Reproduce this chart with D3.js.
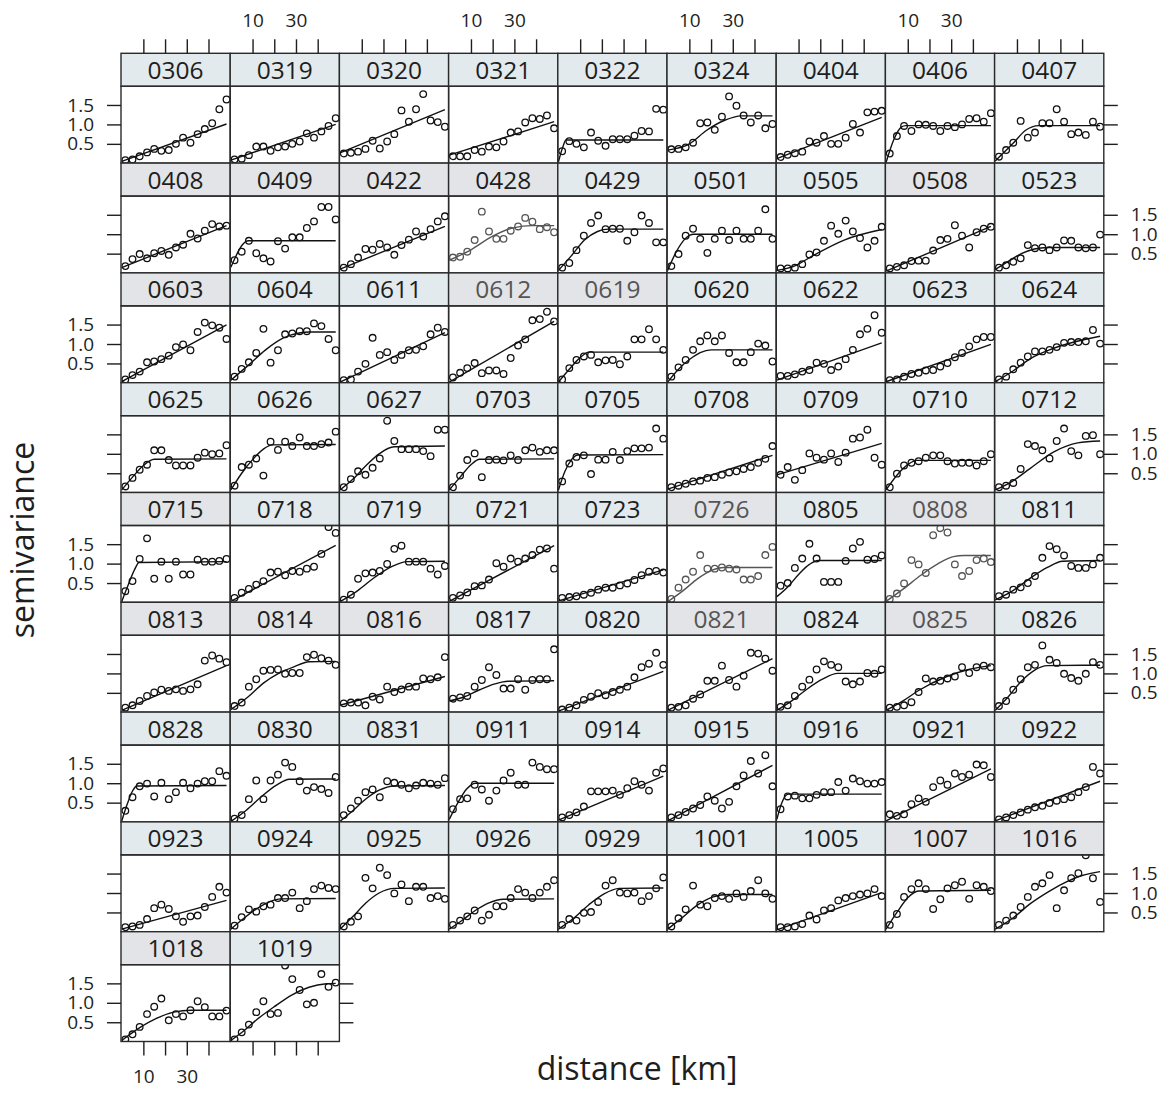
<!DOCTYPE html>
<html>
<head>
<meta charset="utf-8">
<script src="https://cdn.jsdelivr.net/npm/d3@7"></script>
<style>
  body { margin: 0; background: #fff; }
  text { font-family: "Open Sans", sans-serif; fill: #1e1e1e; }
</style>
</head>
<body>
<div id="chart"></div>
<script>
// station labels, in the order the panels are laid out (left to right, top to bottom)
const stations = [
  "0306","0319","0320","0321","0322","0324","0404","0406","0407",
  "0408","0409","0422","0428","0429","0501","0505","0508","0523",
  "0603","0604","0611","0612","0619","0620","0622","0623","0624",
  "0625","0626","0627","0703","0705","0708","0709","0710","0712",
  "0715","0718","0719","0721","0723","0726","0805","0808","0811",
  "0813","0814","0816","0817","0820","0821","0824","0825","0826",
  "0828","0830","0831","0911","0914","0915","0916","0921","0922",
  "0923","0924","0925","0926","0929","1001","1005","1007","1016",
  "1018","1019"
];

// lag distance of each bin [km]
const distances = [1.7, 5, 8.3, 11.7, 15, 18.3, 21.7, 25, 28.3, 31.7, 35, 38.3, 41.7, 45, 48.3];

// empirical semivariance per station (one value per distance bin)
const semivar = [
  [0.08,0.10,0.18,0.28,0.37,0.32,0.34,0.50,0.66,0.53,0.75,0.88,1.03,1.39,1.64],
  [0.10,0.12,0.21,0.43,0.43,0.32,0.41,0.43,0.50,0.56,0.77,0.66,0.82,0.96,1.16],
  [0.25,0.27,0.30,0.37,0.58,0.38,0.56,0.75,1.36,1.07,1.39,1.78,1.10,1.06,0.94],
  [0.18,0.18,0.18,0.34,0.30,0.43,0.41,0.56,0.79,0.82,1.05,1.16,1.14,1.23,0.90],
  [0.31,0.57,0.50,0.41,0.79,0.58,0.45,0.62,0.62,0.62,0.71,0.83,0.82,1.40,1.38],
  [0.36,0.37,0.41,0.53,1.03,1.05,0.86,1.20,1.72,1.48,1.23,1.05,1.23,0.90,1.01],
  [0.16,0.22,0.26,0.30,0.56,0.53,0.70,0.50,0.50,0.66,1.01,0.79,1.31,1.33,1.35],
  [0.25,0.70,0.96,0.83,1.00,0.99,0.96,0.83,0.96,0.93,1.00,1.14,1.16,1.07,1.29],
  [0.17,0.34,0.53,1.09,0.66,0.79,1.03,1.03,1.39,1.07,0.75,0.79,0.73,1.07,0.94],
  [0.18,0.36,0.49,0.38,0.51,0.57,0.47,0.66,0.73,1.01,0.89,1.09,1.26,1.20,1.22],
  [0.33,0.55,0.83,0.51,0.38,0.30,0.82,0.63,0.92,0.92,1.16,1.33,1.70,1.70,1.38],
  [0.14,0.23,0.40,0.62,0.60,0.75,0.66,0.47,0.72,0.86,1.07,0.94,1.13,1.33,1.46],
  [0.40,0.42,0.55,0.85,1.58,1.07,0.88,0.88,1.09,1.20,1.42,1.32,1.13,1.18,1.05],
  [0.14,0.26,0.59,0.96,1.29,1.48,1.13,1.14,1.14,0.83,1.05,1.48,1.29,0.79,0.79],
  [0.18,0.49,0.96,1.14,0.88,0.52,0.88,1.09,0.85,1.09,0.88,0.88,1.09,1.64,0.88],
  [0.12,0.12,0.14,0.23,0.48,0.53,0.83,1.22,1.01,1.35,1.07,0.90,0.66,0.83,1.19],
  [0.12,0.16,0.20,0.31,0.32,0.32,0.58,0.85,0.88,1.23,0.96,0.66,1.05,1.14,1.19],
  [0.14,0.20,0.29,0.38,0.72,0.64,0.66,0.59,0.66,0.84,0.83,0.66,0.64,0.66,0.99],
  [0.09,0.20,0.29,0.53,0.55,0.61,0.70,0.92,0.99,0.84,1.31,1.55,1.48,1.42,1.13],
  [0.16,0.36,0.53,0.77,1.39,0.52,0.84,1.25,1.27,1.33,1.33,1.53,1.46,1.13,0.84],
  [0.07,0.09,0.29,0.49,1.16,0.72,0.79,0.59,0.72,0.84,0.85,0.94,1.25,1.42,1.31],
  [0.14,0.26,0.38,0.51,0.25,0.32,0.32,0.23,0.64,0.96,1.12,1.61,1.64,1.83,1.58],
  [0.09,0.38,0.59,0.68,0.72,0.53,0.58,0.59,0.48,0.68,1.12,1.12,1.38,1.12,0.85],
  [0.16,0.40,0.59,0.85,1.07,1.22,1.07,1.22,0.77,0.53,0.53,0.79,1.01,0.96,0.55],
  [0.18,0.18,0.22,0.29,0.33,0.52,0.49,0.33,0.42,0.61,0.85,1.25,1.39,1.74,1.29],
  [0.07,0.09,0.16,0.23,0.26,0.32,0.33,0.42,0.51,0.66,0.77,0.94,1.12,1.18,1.18],
  [0.09,0.16,0.35,0.52,0.68,0.81,0.81,0.85,0.92,1.03,1.05,1.05,1.07,1.36,1.01],
  [0.16,0.38,0.59,0.72,1.09,1.09,0.84,0.70,0.70,0.70,0.90,1.03,0.99,1.01,1.22],
  [0.18,0.66,0.72,0.88,0.44,1.31,1.10,1.31,1.20,1.42,1.20,1.20,1.25,1.29,1.57],
  [0.14,0.35,0.55,0.46,0.64,0.88,1.85,1.33,1.12,1.12,1.12,1.07,0.94,1.62,1.62],
  [0.14,0.44,0.84,1.01,0.40,0.84,0.85,0.83,0.96,0.84,1.09,1.16,1.05,1.09,1.09],
  [0.29,0.75,0.92,0.96,0.48,0.85,0.85,1.05,0.84,1.07,1.14,1.14,1.16,1.65,1.39],
  [0.14,0.18,0.23,0.29,0.31,0.38,0.40,0.46,0.52,0.55,0.61,0.66,0.77,0.87,1.20],
  [0.46,0.66,0.33,0.58,1.01,0.90,0.85,1.01,0.79,1.03,1.39,1.42,1.62,0.90,0.72],
  [0.14,0.49,0.70,0.77,0.81,0.90,0.96,0.96,0.81,0.75,0.77,0.77,0.70,0.81,0.99],
  [0.14,0.18,0.25,0.61,1.25,1.20,1.09,0.88,1.33,1.65,1.07,0.96,1.46,1.48,0.99],
  [0.29,0.55,1.12,1.65,0.61,1.05,0.61,1.05,0.72,0.72,1.10,1.05,1.05,1.07,1.12],
  [0.12,0.25,0.35,0.46,0.55,0.77,0.79,0.70,0.81,0.79,0.87,0.92,1.25,1.94,1.79],
  [0.07,0.20,0.61,0.75,0.77,0.81,0.99,1.38,1.46,1.05,1.05,1.05,0.87,0.72,0.94],
  [0.12,0.18,0.26,0.42,0.44,0.59,1.01,0.92,1.13,1.05,1.13,1.22,1.36,1.39,0.87],
  [0.12,0.14,0.16,0.20,0.25,0.33,0.38,0.38,0.44,0.49,0.58,0.70,0.79,0.81,0.77],
  [0.09,0.38,0.59,0.79,1.22,0.87,0.87,0.90,0.87,0.85,0.59,0.59,0.68,1.22,1.43],
  [0.43,0.50,0.89,1.13,1.51,1.13,0.53,0.53,0.53,1.07,1.39,1.56,1.10,1.12,1.21],
  [0.09,0.23,0.49,1.09,0.98,0.76,1.73,1.91,1.80,0.98,0.68,0.81,1.09,1.13,1.04],
  [0.16,0.20,0.33,0.39,0.50,0.68,1.15,1.45,1.37,1.21,0.94,0.89,0.89,0.98,1.15],
  [0.12,0.18,0.29,0.42,0.51,0.58,0.55,0.59,0.55,0.59,0.72,1.33,1.46,1.38,1.29],
  [0.16,0.25,0.66,0.85,1.07,1.09,1.10,0.99,1.01,1.01,1.42,1.48,1.39,1.33,1.22],
  [0.23,0.25,0.25,0.18,0.40,0.33,0.66,0.52,0.59,0.66,0.66,0.87,0.85,0.90,1.42],
  [0.35,0.38,0.42,0.66,0.83,1.16,0.96,0.61,0.61,0.85,0.58,0.83,0.85,0.85,1.62],
  [0.07,0.12,0.18,0.32,0.40,0.49,0.44,0.52,0.58,0.66,0.90,1.16,1.25,1.53,1.22],
  [0.12,0.14,0.18,0.35,0.46,0.81,0.81,1.20,0.83,0.66,0.94,1.53,1.51,1.38,1.07],
  [0.14,0.18,0.42,0.66,0.84,1.10,1.31,1.22,1.16,0.79,0.72,0.79,1.01,0.99,1.10],
  [0.12,0.14,0.18,0.26,0.52,0.87,0.79,0.81,0.87,0.92,1.16,1.01,1.16,1.20,1.16],
  [0.16,0.29,0.58,0.85,1.16,1.22,1.72,1.35,1.27,0.99,0.88,0.81,0.99,1.29,1.22],
  [0.29,0.64,0.92,0.99,0.66,1.01,0.59,0.77,1.01,0.87,0.99,1.05,1.05,1.31,1.19],
  [0.09,0.18,0.59,1.07,0.59,1.07,1.22,1.53,1.42,1.05,0.81,0.90,0.85,0.75,1.16],
  [0.18,0.35,0.55,0.77,0.84,0.64,1.05,1.01,0.96,0.87,0.94,1.01,0.99,0.96,1.13],
  [0.33,0.59,0.61,0.96,0.84,0.55,0.81,1.07,1.27,0.96,0.96,1.53,1.42,1.36,1.36],
  [0.12,0.18,0.25,0.40,0.79,0.79,0.79,0.81,0.70,0.87,1.05,0.96,0.81,1.27,1.38],
  [0.12,0.18,0.26,0.35,0.44,0.66,0.55,0.35,0.52,0.92,1.20,1.57,1.25,1.72,0.92],
  [0.33,0.66,0.68,0.61,0.61,0.70,0.77,0.77,1.03,0.81,1.12,1.05,0.99,0.99,1.03],
  [0.20,0.16,0.20,0.46,0.61,0.52,0.90,1.07,0.96,1.25,1.16,1.22,1.48,1.46,1.16],
  [0.07,0.12,0.18,0.25,0.32,0.38,0.42,0.49,0.55,0.59,0.64,0.77,0.90,1.42,1.25],
  [0.12,0.14,0.18,0.33,0.61,0.70,0.59,0.40,0.26,0.40,0.42,0.64,0.90,1.16,1.01],
  [0.16,0.38,0.58,0.52,0.66,0.70,0.87,0.87,1.01,0.61,0.79,1.10,1.19,1.13,1.10],
  [0.14,0.26,0.40,1.39,1.12,1.65,1.46,0.99,1.22,0.79,1.16,1.16,0.87,0.92,0.85],
  [0.18,0.29,0.40,0.55,0.29,0.44,0.66,0.66,0.87,1.10,1.01,0.87,1.01,1.16,1.33],
  [0.18,0.33,0.29,0.49,0.51,0.77,1.19,1.33,1.01,0.99,1.01,0.79,0.92,1.12,1.40],
  [0.14,0.35,0.58,1.19,0.70,0.66,0.87,0.92,0.85,0.99,0.90,1.05,1.33,0.99,0.85],
  [0.12,0.12,0.14,0.20,0.42,0.32,0.55,0.61,0.81,0.87,0.92,0.96,0.99,1.10,0.92],
  [0.18,0.46,0.90,1.10,1.25,1.10,0.59,0.84,1.12,1.20,1.29,0.85,1.20,1.16,1.05],
  [0.18,0.29,0.42,0.64,0.90,1.16,1.25,1.46,0.61,1.07,1.38,1.51,1.97,1.38,0.77],
  [0.06,0.19,0.38,0.71,0.90,1.11,0.55,0.71,0.65,0.81,1.04,0.89,0.65,0.65,0.80],
  [0.06,0.24,0.44,0.76,1.04,0.71,0.74,1.96,1.61,1.33,0.96,1.00,1.74,1.41,1.52]
];

const fitLines = [
  [[0,0.05],[48.3,1.01]],
  [[0,0.08],[48.3,1.0]],
  [[0,0.27],[48.3,1.38]],
  [[0,0.21],[48.3,1.07]],
  [[0,0.04],[2,0.42],[3.5,0.6],[48.3,0.6]],
  [[0,0.34],[10,0.5],[18,0.85],[26,1.1],[34,1.22],[48.3,1.22]],
  [[0,0.12],[48.3,1.18]],
  [[0,0.02],[3.5,0.6],[7,0.93],[9,0.97],[48.3,0.97]],
  [[0,0.06],[8,0.5],[14,0.85],[20,0.97],[48.3,0.97]],
  [[0,0.14],[48.3,1.22]],
  [[0,0.15],[8,0.83],[48.3,0.83]],
  [[0,0.10],[48.3,1.20]],
  [[0,0.33],[10,0.6],[20,0.95],[30,1.17],[38,1.22],[48.3,1.22]],
  [[0,0.07],[6,0.45],[12,0.85],[18,1.07],[23,1.13],[48.3,1.13]],
  [[0,0.07],[4,0.55],[8,0.88],[12,1.0],[48.3,1.0]],
  [[0,0.07],[8,0.18],[17,0.46],[31,0.85],[48.3,1.12]],
  [[0,0.05],[48.3,1.20]],
  [[0,0.09],[6,0.3],[12,0.5],[18,0.62],[24,0.66],[48.3,0.66]],
  [[0,0.03],[48.3,1.49]],
  [[0,0.07],[8,0.45],[16,0.85],[24,1.15],[32,1.29],[36,1.31],[48.3,1.31]],
  [[0,0.02],[48.3,1.29]],
  [[0,0.02],[48.3,1.58]],
  [[0,0.02],[5,0.35],[10,0.65],[14,0.79],[48.3,0.79]],
  [[0,0.02],[5,0.35],[10,0.6],[15,0.78],[20,0.85],[48.3,0.85]],
  [[0,0.07],[48.3,1.03]],
  [[0,0.03],[48.3,0.99]],
  [[0,0.03],[8,0.3],[16,0.62],[25,0.85],[33,1.0],[48.3,1.2]],
  [[0,0.07],[5,0.4],[10,0.7],[15,0.86],[48.3,0.87]],
  [[0,0.07],[5,0.5],[10,0.85],[15,1.12],[19,1.23],[48.3,1.24]],
  [[0,0.07],[6,0.35],[12,0.7],[18,1.0],[25,1.18],[48.3,1.2]],
  [[0,0.07],[5,0.4],[10,0.72],[14,0.86],[48.3,0.87]],
  [[0,0.07],[3,0.55],[6,0.85],[9,0.97],[48.3,0.98]],
  [[0,0.09],[48.3,0.96]],
  [[0,0.46],[48.3,1.27]],
  [[0,0.07],[5,0.45],[10,0.72],[14,0.83],[48.3,0.83]],
  [[0,0.07],[8,0.3],[16,0.62],[27,1.05],[38,1.28],[48.3,1.33]],
  [[0,0.02],[3,0.45],[6,0.85],[8,1.03],[48.3,1.05]],
  [[0,0.03],[48.3,1.47]],
  [[0,0.02],[8,0.3],[16,0.65],[24,0.93],[31,1.05],[48.3,1.06]],
  [[0,0.03],[48.3,1.46]],
  [[0,0.04],[48.3,0.84]],
  [[0,0.02],[7,0.3],[14,0.62],[20,0.82],[26,0.9],[48.3,0.9]],
  [[0,0.15],[5,0.4],[10,0.72],[15,0.98],[19,1.08],[48.3,1.08]],
  [[0,0.03],[8,0.35],[16,0.7],[24,1.0],[31,1.18],[36,1.21],[48.3,1.21]],
  [[0,0.07],[8,0.3],[16,0.62],[24,0.9],[31,1.06],[48.3,1.08]],
  [[0,0.05],[48.3,1.20]],
  [[0,0.07],[8,0.4],[15,0.75],[22,1.0],[29,1.17],[36,1.3],[48.3,1.31]],
  [[0,0.18],[48.3,0.92]],
  [[0,0.29],[7,0.4],[14,0.58],[21,0.73],[27,0.8],[48.3,0.81]],
  [[0,0.03],[48.3,1.05]],
  [[0,0.05],[48.3,1.38]],
  [[0,0.05],[7,0.3],[14,0.6],[21,0.85],[28,1.0],[48.3,1.0]],
  [[0,0.05],[8,0.3],[15,0.56],[28,0.92],[38,1.1],[48.3,1.2]],
  [[0,0.05],[6,0.4],[12,0.8],[18,1.08],[24,1.2],[48.3,1.21]],
  [[0,0.02],[2.5,0.45],[5,0.8],[7,0.93],[48.3,0.94]],
  [[0,0.02],[7,0.3],[14,0.65],[21,0.95],[27,1.1],[48.3,1.11]],
  [[0,0.02],[6,0.3],[12,0.6],[18,0.82],[25,0.93],[48.3,0.94]],
  [[0,0.07],[4,0.5],[8,0.85],[12,1.0],[48.3,1.0]],
  [[0,0.05],[48.3,1.18]],
  [[0,0.03],[48.3,1.46]],
  [[0,0.07],[2,0.45],[4,0.68],[5.5,0.72],[48.3,0.72]],
  [[0,0.03],[48.3,1.37]],
  [[0,0.03],[48.3,1.05]],
  [[0,0.07],[48.3,0.81]],
  [[0,0.07],[6,0.35],[12,0.6],[18,0.78],[23,0.85],[48.3,0.86]],
  [[0,0.07],[6,0.4],[12,0.75],[18,1.0],[25,1.12],[48.3,1.13]],
  [[0,0.07],[6,0.3],[12,0.55],[18,0.74],[25,0.84],[48.3,0.85]],
  [[0,0.07],[7,0.35],[14,0.7],[21,0.98],[28,1.12],[48.3,1.13]],
  [[0,0.07],[7,0.38],[14,0.7],[21,0.9],[28,0.96],[48.3,0.96]],
  [[0,0.05],[48.3,1.01]],
  [[0,0.07],[5,0.5],[10,0.88],[15,1.05],[48.3,1.07]],
  [[0,0.07],[8,0.35],[16,0.72],[25,1.05],[33,1.29],[40,1.45],[48.3,1.55]],
  [[0,0.03],[8,0.35],[16,0.6],[24,0.76],[32,0.81],[48.3,0.81]],
  [[0,0.03],[6,0.28],[12,0.57],[20,0.9],[28,1.2],[36,1.4],[44,1.49],[48.3,1.5]]
];

// tick values / labels
const xTicks = [10, 20, 30, 40];
const xTickLabels = [10, 30];
const yTicks = [0.5, 1.0, 1.5];

// strips that look grey instead of blue-grey, and panels printed lighter
const greyStrips = ["0408","0409","0422","0428","0508","0603","0612","0619","0715","0726",
                    "0808","0813","0814","0816","0821","0825","1007","1016","1018"];
const fadedText = ["0612","0619","0726","0808","0821","0825"];
const fadedMarks = ["0428","0726","0808"];

// layout
const width = 1168;
const height = 1095;
const nCol = 9;
const left0 = 121, top0 = 53.3;
const colW = 109.2, rowH = 109.8, stripH = 33;
const plotH = rowH - stripH;
const nRow = Math.ceil(stations.length / nCol);

const svg = d3.select("#chart")
  .append("svg")
  .attr("width", width)
  .attr("height", height);

const xScale = d3.scaleLinear().domain([-0.3, 50]).range([0, colW]);
const yScale = d3.scaleLinear().domain([0.005, 1.98]).range([plotH, 0]);

const lineGenerator = d3.line()
  .x(d => xScale(d[0]))
  .y(d => yScale(d[1]))
  .curve(d3.curveMonotoneX);

svg.append("defs")
  .append("clipPath")
  .attr("id", "plotclip")
  .append("rect")
  .attr("width", colW)
  .attr("height", plotH);

stations.forEach(function(name, i) {
  const col = i % nCol;
  const row = Math.floor(i / nCol);
  const g = svg.append("g")
    .attr("transform", `translate(${left0 + col * colW},${top0 + row * rowH})`);

  // strip
  g.append("rect")
    .attr("width", colW)
    .attr("height", stripH)
    .attr("fill", greyStrips.includes(name) ? "#e3e4e7" : "#e2eaed")
    .attr("stroke", "#2a2a2a")
    .attr("stroke-width", 1.4);

  g.append("text")
    .attr("x", colW / 2)
    .attr("y", stripH / 2 + 9)
    .attr("text-anchor", "middle")
    .style("font-size", "24.5px")
    .style("fill", fadedText.includes(name) ? "#555" : "#1e1e1e")
    .text(name);

  const p = g.append("g").attr("transform", `translate(0,${stripH})`);
  const markCol = fadedMarks.includes(name) ? "#555" : "#111";

  const inner = p.append("g").attr("clip-path", "url(#plotclip)");

  inner.append("path")
    .datum(fitLines[i])
    .attr("fill", "none")
    .attr("stroke", markCol)
    .attr("stroke-width", 1.4)
    .attr("d", lineGenerator);

  inner.selectAll("circle")
    .data(semivar[i])
    .enter()
    .append("circle")
    .attr("cx", (d, j) => xScale(distances[j]))
    .attr("cy", d => yScale(d))
    .attr("r", 3.3)
    .attr("fill", "none")
    .attr("stroke", markCol)
    .attr("stroke-width", 1.3);

  p.append("rect")
    .attr("width", colW)
    .attr("height", plotH)
    .attr("fill", "none")
    .attr("stroke", "#2a2a2a")
    .attr("stroke-width", 1.4);
});

// axes (lattice style: ticks on every outer side, labels alternating)
function styleAxis(g) {
  g.select(".domain").remove();
  g.selectAll(".tick line").attr("stroke", "#1e1e1e").attr("stroke-width", 1.4);
  g.selectAll(".tick text")
    .attr("fill", "#1e1e1e")
    .style("font-family", "'Open Sans', sans-serif")
    .style("font-size", "19px");
}

for (let col = 0; col < nCol; col++) {
  const showLab = col % 2 === 1;
  svg.append("g")
    .attr("transform", `translate(${left0 + col * colW},${top0})`)
    .call(d3.axisTop(xScale)
      .tickValues(xTicks)
      .tickSize(14)
      .tickPadding(12.6)
      .tickFormat(d => showLab && xTickLabels.includes(d) ? d : ""))
    .call(styleAxis);
}

const lastCount = stations.length - (nRow - 1) * nCol;
for (let col = 0; col < lastCount; col++) {
  svg.append("g")
    .attr("transform", `translate(${left0 + col * colW},${top0 + (nRow - 1) * rowH + rowH})`)
    .call(d3.axisBottom(xScale)
      .tickValues(xTicks)
      .tickSize(14)
      .tickPadding(14)
      .tickFormat(d => col % 2 === 0 && xTickLabels.includes(d) ? d : ""))
    .call(styleAxis);
}

for (let row = 0; row < nRow; row++) {
  const py = top0 + row * rowH + stripH;
  const nInRow = row === nRow - 1 ? lastCount : nCol;
  svg.append("g")
    .attr("transform", `translate(${left0},${py})`)
    .call(d3.axisLeft(yScale)
      .tickValues(yTicks)
      .tickSize(14)
      .tickPadding(13)
      .tickFormat(d => row % 2 === 0 ? d3.format(".1f")(d) : ""))
    .call(styleAxis);

  svg.append("g")
    .attr("transform", `translate(${left0 + nInRow * colW},${py})`)
    .call(d3.axisRight(yScale)
      .tickValues(yTicks)
      .tickSize(14)
      .tickPadding(13)
      .tickFormat(d => row % 2 === 1 ? d3.format(".1f")(d) : ""))
    .call(styleAxis);
}

// axis titles
svg.append("text")
  .attr("x", 637)
  .attr("y", 1080)
  .attr("text-anchor", "middle")
  .style("font-size", "32px")
  .text("distance [km]");

svg.append("text")
  .attr("transform", "translate(34,540) rotate(-90)")
  .attr("text-anchor", "middle")
  .style("font-size", "32px")
  .text("semivariance");
</script>
</body>
</html>
